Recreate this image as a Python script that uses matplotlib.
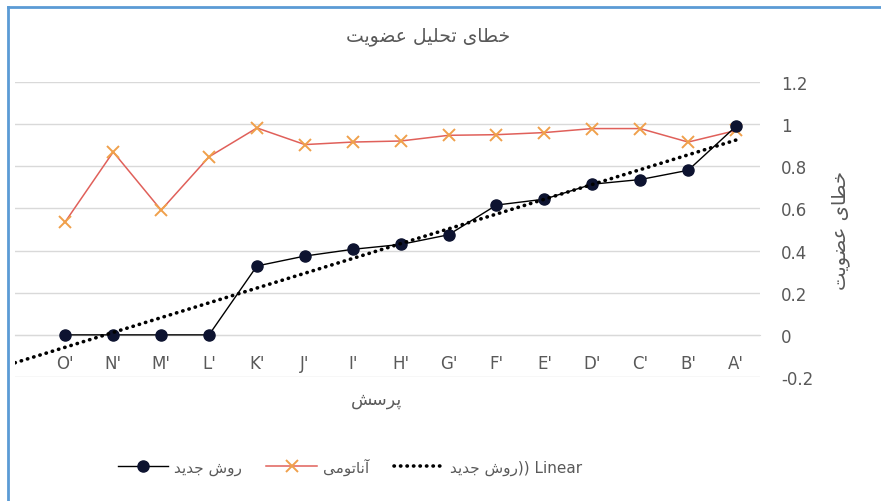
import matplotlib
matplotlib.use("Agg")
import matplotlib.pyplot as plt
import numpy as np
from matplotlib.lines import Line2D

plt.rcParams['font.family'] = ['DejaVu Sans']

# Persian letter forms: isolated, final, initial, medial (None -> does not join to next letter)
FORMS = {
    'ا': ('\uFE8D', '\uFE8E', None, None),
    'آ': ('\uFE81', '\uFE82', None, None),
    'د': ('\uFEA9', '\uFEAA', None, None),
    'ر': ('\uFEAD', '\uFEAE', None, None),
    'و': ('\uFEED', '\uFEEE', None, None),
    'ت': ('\uFE95', '\uFE96', '\uFE97', '\uFE98'),
    'ج': ('\uFE9D', '\uFE9E', '\uFE9F', '\uFEA0'),
    'ح': ('\uFEA1', '\uFEA2', '\uFEA3', '\uFEA4'),
    'خ': ('\uFEA5', '\uFEA6', '\uFEA7', '\uFEA8'),
    'س': ('\uFEB1', '\uFEB2', '\uFEB3', '\uFEB4'),
    'ش': ('\uFEB5', '\uFEB6', '\uFEB7', '\uFEB8'),
    'ض': ('\uFEBD', '\uFEBE', '\uFEBF', '\uFEC0'),
    'ط': ('\uFEC1', '\uFEC2', '\uFEC3', '\uFEC4'),
    'ع': ('\uFEC9', '\uFECA', '\uFECB', '\uFECC'),
    'ل': ('\uFEDD', '\uFEDE', '\uFEDF', '\uFEE0'),
    'م': ('\uFEE1', '\uFEE2', '\uFEE3', '\uFEE4'),
    'ن': ('\uFEE5', '\uFEE6', '\uFEE7', '\uFEE8'),
    'ی': ('\uFEEF', '\uFEF0', '\uFEF3', '\uFEF4'),
    'پ': ('\uFB56', '\uFB57', '\uFB58', '\uFB59'),
}


def fa(s):
    # shape letters and put them in visual (left to right) order
    out = []
    for i, c in enumerate(s):
        if c not in FORMS:
            out.append(c)
            continue
        prev = s[i - 1] if i > 0 else ''
        nxt = s[i + 1] if i < len(s) - 1 else ''
        jp = prev in FORMS and FORMS[prev][2] is not None
        jn = FORMS[c][2] is not None and nxt in FORMS
        f = FORMS[c]
        if jp and jn:
            out.append(f[3])
        elif jp:
            out.append(f[1])
        elif jn:
            out.append(f[2])
        else:
            out.append(f[0])
    return ''.join(reversed(out))


categories = ["O'", "N'", "M'", "L'", "K'", "J'", "I'", "H'", "G'", "F'", "E'", "D'", "C'", "B'", "A'"]
new_method = [0, 0, 0, 0, 0.327, 0.374, 0.406, 0.429, 0.475, 0.616, 0.644, 0.715, 0.737, 0.781, 0.99]
anatomy = [0.537, 0.868, 0.592, 0.845, 0.982, 0.903, 0.915, 0.92, 0.947, 0.95, 0.96, 0.979, 0.979, 0.915, 0.97]
yticks = [-0.2, 0, 0.2, 0.4, 0.6, 0.8, 1, 1.2]

title = fa('خطای تحلیل عضویت')
xlab = fa('پرسش')
ylab = fa('خطای عضویت')
lab_new = fa('روش جدید')
lab_anat = fa('آناتومی')
lab_trend = fa('روش جدید') + ')) Linear'

gray = '#595959'
dots = (0, (0.1, 1.7))

fig = plt.figure(figsize=(8.81, 5.02), dpi=100)
ax = fig.add_axes([15 / 881, 1 - 378 / 502, 745 / 881, 295 / 502])

x = np.arange(len(categories))
# Excel style linear trendline, one period backward
k, b = np.polyfit(x, new_method, 1)
xl = -1.05
tx = np.array([xl, x[-1]])

ax.plot(x, new_method, color='black', lw=1.0, marker='o', markersize=8,
        markerfacecolor='#0d1330', markeredgecolor='#0d1330', zorder=4)
ax.plot(x, anatomy, color='#e0605a', lw=1.1, marker='x', markersize=8,
        markeredgecolor='#f0a04b', markeredgewidth=1.4, zorder=3)
ax.plot(tx, k * tx + b, color='black', lw=2.6, linestyle=dots,
        dash_capstyle='round', zorder=5)

ax.set_xlim(xl, 14.5)
ax.set_ylim(-0.2, 1.2)
ax.set_yticks(yticks)
ax.set_yticklabels(['-0.2', '0', '0.2', '0.4', '0.6', '0.8', '1', '1.2'])
ax.yaxis.tick_right()
ax.grid(axis='y', color='#d9d9d9', lw=1)
ax.set_axisbelow(True)
ax.set_xticks(x)
ax.set_xticklabels(categories)
for s in ['top', 'left', 'right']:
    ax.spines[s].set_visible(False)
ax.spines['bottom'].set_position(('data', 0))
ax.spines['bottom'].set_color('#d9d9d9')
ax.tick_params(axis='y', length=0, pad=15, labelsize=12, labelcolor=gray)
ax.tick_params(axis='x', length=0, pad=14, labelsize=12, labelcolor=gray)

fig.text(428 / 881, 1 - 36 / 502, title, ha='center', va='center', fontsize=13.5, color=gray)
fig.text(377 / 881, 1 - 400 / 502, xlab, ha='center', va='center', fontsize=12.5, color=gray)
fig.text(841 / 881, 1 - 230 / 502, ylab, ha='center', va='center', fontsize=14, color=gray, rotation=90)

handles = [
    Line2D([], [], color='black', lw=1.0, marker='o', markersize=8,
           markerfacecolor='#0d1330', markeredgecolor='#0d1330'),
    Line2D([], [], color='#e0605a', lw=1.1, marker='x', markersize=8,
           markeredgecolor='#f0a04b', markeredgewidth=1.4),
    Line2D([], [], color='black', lw=2.6, linestyle=dots, dash_capstyle='round'),
]
fig.legend(handles, [lab_new, lab_anat, lab_trend], loc='center', ncol=3,
           bbox_to_anchor=(350 / 881, 1 - 467 / 502), frameon=False,
           fontsize=11, labelcolor=gray, handlelength=3.3, handletextpad=0.4,
           columnspacing=1.6)

# blue frame of the chart object (left and top edges)
fig.add_artist(Line2D([8 / 881, 8 / 881], [0, 1 - 8 / 502], transform=fig.transFigure,
                      color='#5b9bd5', lw=2))
fig.add_artist(Line2D([8 / 881, 1], [1 - 8 / 502, 1 - 8 / 502], transform=fig.transFigure,
                      color='#5b9bd5', lw=2))

fig.savefig('out.png', dpi=100)
